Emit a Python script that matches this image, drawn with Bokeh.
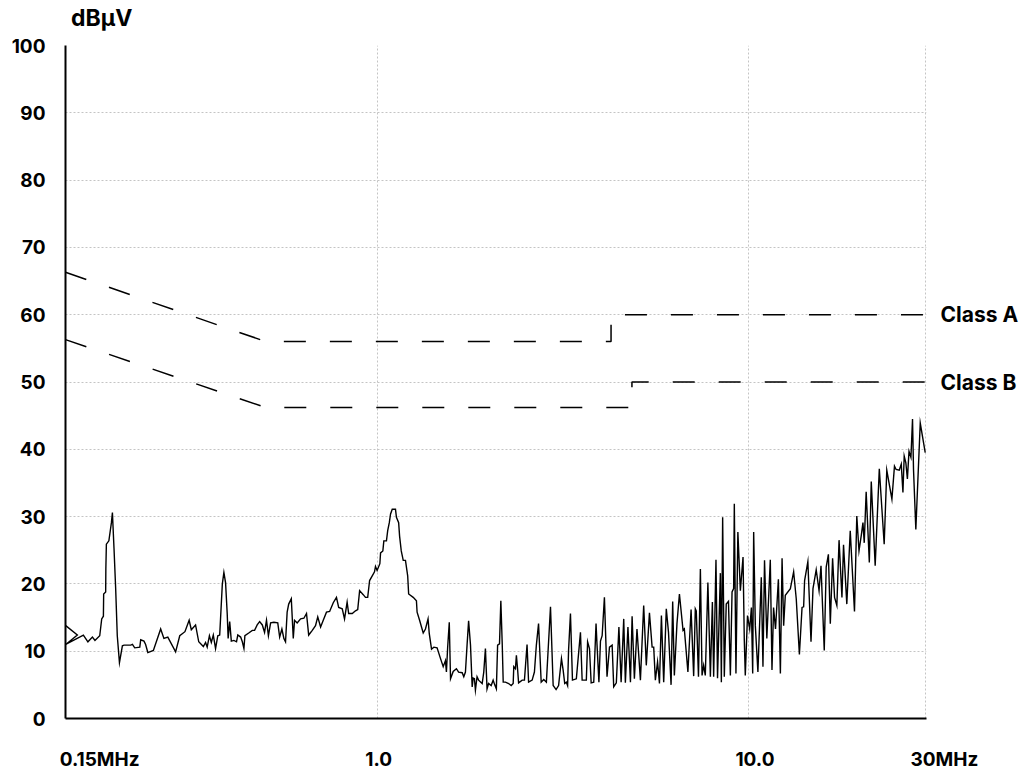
from bokeh.plotting import figure
from bokeh.models import FixedTicker, Range1d, LinearAxis, LogAxis
from bokeh.embed import file_html
from bokeh.resources import INLINE

# ---------------- data ----------------
Y_TICKS = [0, 10, 20, 30, 40, 50, 60, 70, 80, 90, 100]
X_LABELS = ["0.15MHz", "1.0", "10.0", "30MHz"]
Y_UNIT = "dBμV"

CLASS_A_F = [0.144, 0.5, 4.26, 4.26, 30.2]
CLASS_A_V = [66.3, 56.0, 56.0, 60.0, 60.0]
CLASS_B_F = [0.144, 0.5, 4.85, 4.85, 30.2]
CLASS_B_V = [56.3, 46.2, 46.2, 50.0, 50.0]
LIMIT_NAMES = ["Class A", "Class B"]

FREQ = [
    0.1442, 0.1550, 0.1442, 0.1609, 0.1655, 0.1702, 0.1729, 0.1781, 0.1803, 0.1822,
    0.1825, 0.1848, 0.1850, 0.1856, 0.1885, 0.1915, 0.1927, 0.1934, 0.1946, 0.1966,
    0.1986, 0.2013, 0.2050, 0.2071, 0.2159, 0.2182, 0.2213, 0.2284, 0.2297, 0.2344,
    0.2368, 0.2401, 0.2485, 0.2600, 0.2653, 0.2718, 0.2853, 0.2927, 0.3023, 0.3103,
    0.3145, 0.3229, 0.3293, 0.3389, 0.3436, 0.3471, 0.3519, 0.3561, 0.3605, 0.3656,
    0.3707, 0.3751, 0.3813, 0.3850, 0.3890, 0.3930, 0.3953, 0.3991, 0.4032, 0.4097,
    0.4164, 0.4197, 0.4272, 0.4317, 0.4360, 0.4386, 0.4492, 0.4593, 0.4658, 0.4734,
    0.4807, 0.4887, 0.4956, 0.5016, 0.5076, 0.5146, 0.5251, 0.5379, 0.5443, 0.5519,
    0.5587, 0.5645, 0.5702, 0.5757, 0.5851, 0.5923, 0.5970, 0.6068, 0.6199, 0.6326,
    0.6430, 0.6518, 0.6665, 0.6800, 0.6895, 0.7018, 0.7135, 0.7279, 0.7423, 0.7592,
    0.7745, 0.7852, 0.8028, 0.8142, 0.8275, 0.8354, 0.8543, 0.8716, 0.8837, 0.8942,
    0.9145, 0.9274, 0.9402, 0.9514, 0.9671, 0.9808, 0.9868, 0.9968, 1.0140, 1.0184,
    1.0330, 1.0393, 1.0563, 1.0645, 1.0752, 1.0836, 1.0950, 1.1172, 1.1239, 1.1394,
    1.1461, 1.1580, 1.1723, 1.1887, 1.2052, 1.2124, 1.2473, 1.2724, 1.2777, 1.2976,
    1.3271, 1.3458, 1.3676, 1.3781, 1.3975, 1.4174, 1.4465, 1.4778, 1.5025, 1.5236,
    1.5328, 1.5447, 1.5603, 1.5724, 1.5987, 1.6309, 1.6534, 1.6906, 1.7073, 1.7249,
    1.7424, 1.7592, 1.7800, 1.7987, 1.8097, 1.8241, 1.8352, 1.8539, 1.8717, 1.9139,
    1.9328, 1.9527, 1.9726, 1.9915, 2.0237, 2.0487, 2.0688, 2.0900, 2.1063, 2.1313,
    2.1490, 2.1675, 2.1808, 2.2115, 2.2555, 2.2918, 2.3201, 2.3288, 2.3527, 2.3669,
    2.3854, 2.3995, 2.4535, 2.4882, 2.5288, 2.5530, 2.6101, 2.6471, 2.6791, 2.7160,
    2.7608, 2.8054, 2.8513, 2.9250, 2.9738, 3.0283, 3.0756, 3.1313, 3.1640, 3.1951,
    3.2278, 3.2530, 3.2723, 3.3110, 3.3524, 3.4342, 3.5230, 3.5600, 3.6540, 3.6830,
    3.7260, 3.7650, 3.8260, 3.8810, 3.9050, 3.9510, 3.9890, 4.0310, 4.0880, 4.1550,
    4.2190, 4.2890, 4.3310, 4.4020, 4.4730, 4.5350, 4.6090, 4.6560, 4.7310, 4.8050,
    4.8550, 4.9240, 5.0040, 5.1120, 5.2170, 5.3020, 5.4070, 5.4970, 5.5520, 5.6090,
    5.6860, 5.7540, 5.8240, 5.9070, 6.0030, 6.0860, 6.1840, 6.2460, 6.3110, 6.4140,
    6.5130, 6.6610, 6.7140, 6.8650, 7.0020, 7.1150, 7.1880, 7.2310, 7.3310, 7.4180,
    7.4960, 7.5700, 7.6480, 7.7720, 7.8930, 7.9920, 8.0550, 8.1720, 8.2510, 8.3980,
    8.4500, 8.5180, 8.6060, 8.7100, 8.8310, 8.9360, 9.0300, 9.1190, 9.1580, 9.2510,
    9.3620, 9.5080, 9.6670, 9.7440, 9.8030, 9.9390, 10.076, 10.183, 10.265, 10.327,
    10.434, 10.603, 10.827, 10.940, 11.047, 11.207, 11.450, 11.570, 11.685, 11.827,
    12.040, 12.190, 12.318, 12.440, 12.568, 12.970, 13.236, 13.452, 13.718, 13.945,
    14.083, 14.168, 14.458, 14.743, 14.925, 15.226, 15.499, 15.687, 16.007, 16.201,
    16.424, 16.620, 16.858, 17.064, 17.310, 17.547, 17.866, 18.042, 18.414, 18.810,
    19.312, 19.591, 19.860, 20.144, 20.354, 20.517, 20.765, 21.175, 21.432, 21.960,
    22.529, 23.222, 23.600, 24.363, 24.754, 25.007, 25.501, 25.819, 26.089, 26.296,
    26.566, 26.822, 27.092, 27.418, 27.690, 27.860, 28.264, 29.050, 29.960,
]
LEVEL = [
    13.8, 12.4, 11.0, 12.4, 11.4, 12.1, 11.6, 12.3, 14.8, 15.2,
    18.5, 18.8, 22.2, 25.9, 26.4, 29.1, 30.6, 28.6, 25.3, 19.4,
    12.3, 8.3, 10.8, 10.9, 10.9, 11.0, 10.5, 10.6, 11.7, 11.5,
    11.0, 9.8, 10.1, 13.3, 11.9, 12.1, 9.9, 12.3, 12.9, 14.6,
    13.2, 13.9, 11.4, 10.7, 11.3, 10.6, 12.3, 11.3, 12.4, 10.4,
    12.3, 12.4, 20.0, 21.7, 20.2, 15.6, 11.9, 14.4, 11.5, 11.6,
    11.4, 12.4, 12.1, 11.4, 10.4, 12.3, 12.7, 13.1, 13.1, 13.9,
    14.4, 13.9, 12.8, 14.6, 12.3, 14.2, 14.3, 14.2, 12.1, 13.3,
    11.9, 11.4, 15.8, 17.0, 17.8, 11.9, 14.6, 14.2, 14.8, 14.9,
    15.6, 12.4, 13.1, 13.8, 15.1, 13.6, 14.6, 15.8, 15.9, 17.2,
    18.0, 16.5, 16.3, 14.8, 17.3, 15.6, 15.6, 16.0, 16.2, 19.0,
    18.4, 18.0, 18.0, 20.5, 21.2, 21.8, 22.6, 22.0, 23.0, 24.6,
    24.9, 26.4, 26.4, 27.9, 29.1, 30.4, 31.1, 31.1, 29.9, 29.1,
    27.1, 24.9, 23.5, 23.5, 21.2, 18.5, 18.0, 17.5, 15.8, 14.6,
    12.7, 13.3, 14.8, 12.6, 10.3, 10.6, 10.5, 8.9, 7.7, 8.6,
    6.9, 10.6, 14.3, 5.9, 7.0, 7.4, 6.9, 6.8, 6.2, 6.9,
    10.9, 14.5, 10.9, 4.7, 6.0, 5.9, 4.2, 6.2, 5.7, 5.2,
    6.9, 10.4, 4.4, 5.2, 4.9, 5.7, 5.0, 4.4, 10.9, 11.1,
    17.5, 11.1, 5.4, 5.4, 5.2, 4.9, 5.2, 7.7, 7.4, 9.4,
    7.2, 5.3, 5.7, 5.7, 11.0, 5.4, 5.7, 6.9, 10.9, 14.1,
    5.4, 5.8, 5.4, 16.6, 4.9, 4.3, 4.9, 8.9, 7.2, 5.2,
    5.4, 4.9, 10.1, 15.6, 5.7, 5.9, 12.8, 5.7, 5.7, 11.4,
    10.4, 5.3, 5.4, 14.1, 10.9, 5.4, 11.5, 12.3, 18.0, 6.2,
    10.6, 10.9, 4.7, 5.3, 13.6, 5.4, 14.8, 5.3, 13.6, 5.4,
    15.2, 5.9, 13.3, 5.7, 16.8, 7.9, 15.7, 10.6, 10.6, 5.7,
    8.4, 5.2, 15.3, 5.4, 16.3, 12.8, 5.0, 17.4, 6.4, 14.1,
    18.5, 13.1, 13.3, 6.9, 16.2, 6.3, 16.3, 16.0, 6.2, 22.2,
    6.4, 7.9, 6.4, 20.2, 6.2, 17.3, 6.2, 23.6, 6.0, 21.6,
    5.4, 29.9, 6.2, 17.0, 17.4, 6.4, 18.8, 19.3, 31.9, 6.7,
    27.7, 19.0, 24.0, 11.6, 6.4, 15.3, 13.3, 16.5, 6.7, 27.7,
    13.8, 6.9, 21.0, 7.7, 23.5, 11.9, 23.6, 7.2, 16.5, 13.3,
    20.7, 6.7, 23.8, 13.8, 18.3, 19.3, 21.8, 17.8, 9.5, 16.5,
    16.6, 20.5, 23.3, 11.4, 19.3, 22.1, 19.0, 22.7, 10.1, 22.5,
    24.4, 14.1, 23.8, 18.0, 16.8, 26.5, 18.0, 25.8, 17.0, 27.9,
    15.9, 30.1, 24.9, 27.2, 29.1, 26.1, 33.7, 23.2, 35.2, 22.7,
    37.1, 25.9, 36.9, 32.6, 37.5, 37.0, 36.9, 37.8, 33.6, 39.0,
    38.0, 35.6, 39.7, 38.8, 44.5, 37.0, 28.1, 43.9, 39.5,
]

# ---------------- figure ----------------
FONT = "Inter"
FONT_SIZE = "19px"
PAD = "\u00a0" * 8   # pushes the last, centred label to the right of the frame edge

p = figure(
    width=1023, height=773,
    x_axis_type="log",
    x_range=Range1d(0.144, 30.2), y_range=Range1d(0, 100),
    output_backend="svg", toolbar_location=None,
    min_border_left=65, min_border_right=97, min_border_top=45, min_border_bottom=53,
)
p.outline_line_color = None
p.background_fill_color = "white"
p.border_fill_color = "white"


def plain_axis(ax, size=FONT_SIZE, standoff=10):
    ax.major_tick_line_color = None
    ax.major_tick_out = 0
    ax.major_tick_in = 0
    ax.minor_tick_line_color = None
    ax.minor_tick_out = 0
    ax.minor_tick_in = 0
    ax.major_label_standoff = standoff
    ax.major_label_text_font = FONT
    ax.major_label_text_font_style = "bold"
    ax.major_label_text_font_size = size
    ax.major_label_text_color = "black"


# grids
p.xgrid.ticker = FixedTicker(ticks=[1, 10, 30])
p.ygrid.ticker = FixedTicker(ticks=Y_TICKS)
for g in (p.xgrid, p.ygrid):
    g.grid_line_color = "#c4c4c4"
    g.grid_line_dash = "2 2"
    g.grid_line_width = 1

# x axis (labels centred on their positions)
x_label_pos = [0.178, 1.006, 10.41, 30.19]
x_label_txt = [X_LABELS[0], X_LABELS[1], X_LABELS[2], PAD + X_LABELS[3]]
p.xaxis.ticker = FixedTicker(ticks=x_label_pos)
p.xaxis.major_label_overrides = {t: s for t, s in zip(x_label_pos, x_label_txt)}
plain_axis(p.xaxis, standoff=29)
p.xaxis.axis_line_width = 2
p.xaxis.axis_line_color = "black"

# y axis
p.yaxis.ticker = FixedTicker(ticks=Y_TICKS)
plain_axis(p.yaxis, standoff=20)
p.yaxis.axis_line_width = 2
p.yaxis.axis_line_color = "black"

# right axis carrying the limit names
lim_levels = [CLASS_A_V[-1], CLASS_B_V[-1]]
raxis = LinearAxis(ticker=FixedTicker(ticks=lim_levels),
                   major_label_overrides={lv: nm for lv, nm in zip(lim_levels, LIMIT_NAMES)})
plain_axis(raxis, size="21px", standoff=14)
raxis.axis_line_color = None
p.add_layout(raxis, "right")

# top axis carrying the unit
unit_pos = 0.1803
taxis = LogAxis(ticker=FixedTicker(ticks=[unit_pos]),
                major_label_overrides={unit_pos: Y_UNIT})
plain_axis(taxis, size="23px", standoff=14)
taxis.axis_line_color = None
p.add_layout(taxis, "above")

# limit lines
p.line(CLASS_A_F, CLASS_A_V, line_color="black", line_width=1.5, line_dash="22 24")
p.line(CLASS_B_F, CLASS_B_V, line_color="black", line_width=1.5, line_dash="22 24")

# measured trace
p.line(FREQ, LEVEL, line_color="black", line_width=1.4, line_join="miter")

open("out.html", "w").write(file_html(p, INLINE))
